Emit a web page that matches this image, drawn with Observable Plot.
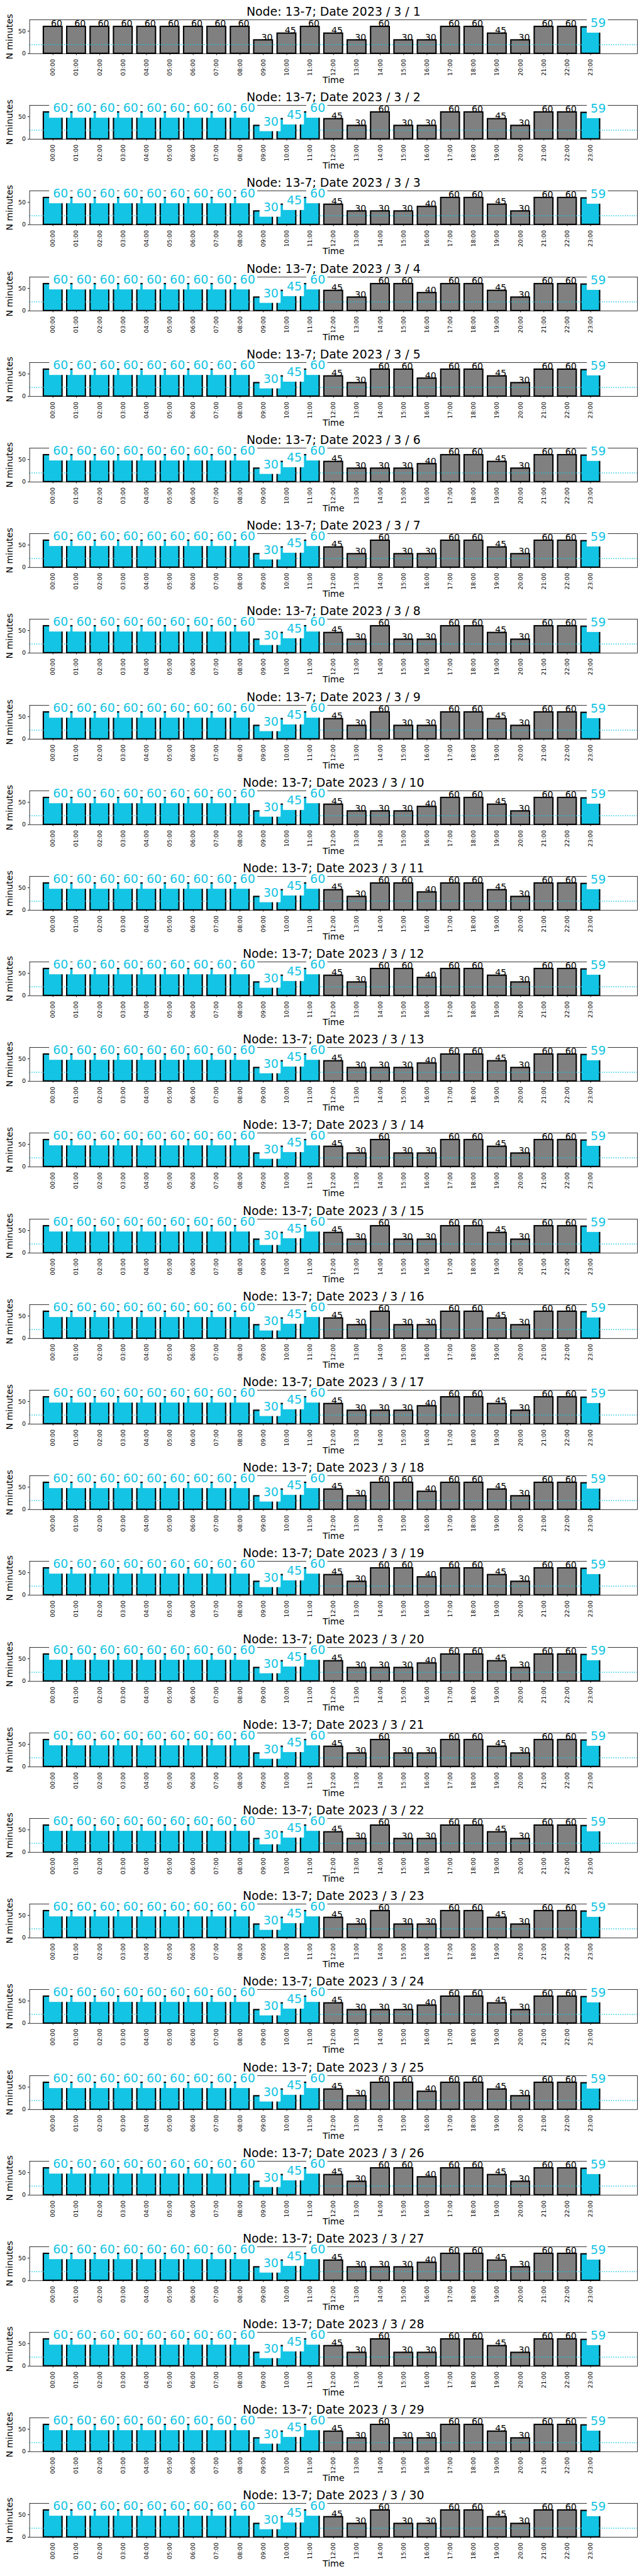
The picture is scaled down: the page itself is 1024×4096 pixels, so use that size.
<!DOCTYPE html>
<html>
<head>
<meta charset="utf-8">
<script src="https://cdn.jsdelivr.net/npm/d3@7"></script>
<script src="https://cdn.jsdelivr.net/npm/@observablehq/plot@0.6"></script>
<style>
  html, body { margin: 0; padding: 0; background: #ffffff; }
  #charts svg { display: block; }
</style>
</head>
<body>
<div id="charts"></div>
<script>
// ---------------- data ----------------
const nodeName = "13-7";
const year = 2023, month = 3;
const days = d3.range(1, 31); // 1..30

const hours = ["00:00","01:00","02:00","03:00","04:00","05:00","06:00","07:00",
               "08:00","09:00","10:00","11:00","12:00","13:00","14:00","15:00",
               "16:00","17:00","18:00","19:00","20:00","21:00","22:00","23:00"];

// minutes per hour
const morningMinutes = [60, 60, 60, 60, 60, 60, 60, 60, 60, 30, 45, 60]; // 00:00–11:00
const afternoonA = [45, 30, 60, 30, 30];   // 12:00–16:00
const afternoonB = [45, 30, 30, 30, 40];
const afternoonC = [45, 30, 60, 60, 40];
const eveningMinutes = [60, 60, 45, 30, 60, 60]; // 17:00–22:00
const lastHourMinutes = [59];                     // 23:00

// afternoon profile of each day 1..30
const dayProfiles = ["A","A","B","C","C","B","A","A","A","B","C","C","B","A","A",
                     "A","B","C","C","B","A","A","A","B","C","C","B","A","A","A"];

// highlighted hours
const highlightFirstDay = [23];
const highlightOtherDays = [0,1,2,3,4,5,6,7,8,9,10,11,23];

const threshold = 20;

// ---------------- style ----------------
const S = 0.682;
const CYAN = "#13c4e4";
const GRAY = "#808080";
const FONT = "DejaVu Sans";

const afternoons = {A: afternoonA, B: afternoonB, C: afternoonC};
const container = document.getElementById("charts");

const W = 1024;
const PANEL_H = 199.7 * S;
const mTop = 45.3 * S;
const plotH = 79 * S;
const mBottom = PANEL_H - mTop - plotH;
const mLeft = 68.3 * S;
const plotW = 1417 * S;
const mRight = W - mLeft - plotW;

days.forEach((day, di) => {
  const values = morningMinutes.concat(afternoons[dayProfiles[di]], eveningMinutes, lastHourMinutes);
  const hi = di === 0 ? highlightFirstDay : highlightOtherDays;
  const data = values.map((v, h) => ({hour: h, value: v, hi: hi.includes(h)}));
  const hiData = data.filter(d => d.hi);
  const loData = data.filter(d => !d.hi);
  const title = `Node: ${nodeName}; Date ${year} / ${month} / ${day}`;

  const chart = Plot.plot({
    width: W,
    height: PANEL_H,
    marginTop: mTop,
    marginBottom: mBottom,
    marginLeft: mLeft,
    marginRight: mRight,
    style: {fontFamily: FONT, background: "white", color: "black", overflow: "visible"},
    x: {type: "linear", domain: [-1, 25]},
    y: {domain: [0, 75.5]},
    marks: [
      Plot.rectY(data, {
        x1: d => d.hour - 0.4, x2: d => d.hour + 0.4, y: "value",
        fill: d => d.hi ? CYAN : GRAY, stroke: "black", strokeWidth: 2.1
      }),
      Plot.ruleY([threshold], {stroke: CYAN, strokeWidth: 1.4, strokeDasharray: "1.4,2.3"}),
      Plot.frame({stroke: "black", strokeWidth: 0.8}),
      Plot.axisY({ticks: [0, 50], tickSize: 2.5, tickPadding: 3.5, fontSize: 9.5, label: null}),
      Plot.axisX({
        ticks: d3.range(0, 24), tickFormat: i => hours[i], tickRotate: -90,
        tickSize: 2.7, tickPadding: 6, fontSize: 9.2, label: null
      }),
      Plot.rect(hiData, {
        x1: d => d.hour - 0.15, x2: d => d.hour + 0.75,
        y1: d => d.value - 12.9, y2: d => d.value + 26,
        fill: "white"
      }),
      Plot.text(hiData, {
        x: "hour", y: "value", text: d => String(d.value),
        textAnchor: "start", lineAnchor: "bottom", fill: CYAN, fontSize: 19
      }),
      Plot.text(loData, {
        x: d => d.hour + 0.4, y: "value", text: d => String(d.value),
        textAnchor: "end", lineAnchor: "bottom", fill: "black", fontSize: 14.2
      }),
      Plot.text([title], {
        text: d => d, frameAnchor: "top", lineAnchor: "bottom", dy: -6.3,
        fontSize: 18.9, fill: "black"
      }),
      Plot.text(["N minutes"], {
        text: d => d, frameAnchor: "left", rotate: -90, textAnchor: "middle",
        lineAnchor: "middle", dx: 15.2 - mLeft, fontSize: 14.2, fill: "black"
      }),
      Plot.text(["Time"], {
        text: d => d, frameAnchor: "bottom", lineAnchor: "bottom", dy: 46.9,
        fontSize: 14.2, fill: "black"
      })
    ]
  });
  container.appendChild(chart);
});
</script>
</body>
</html>
